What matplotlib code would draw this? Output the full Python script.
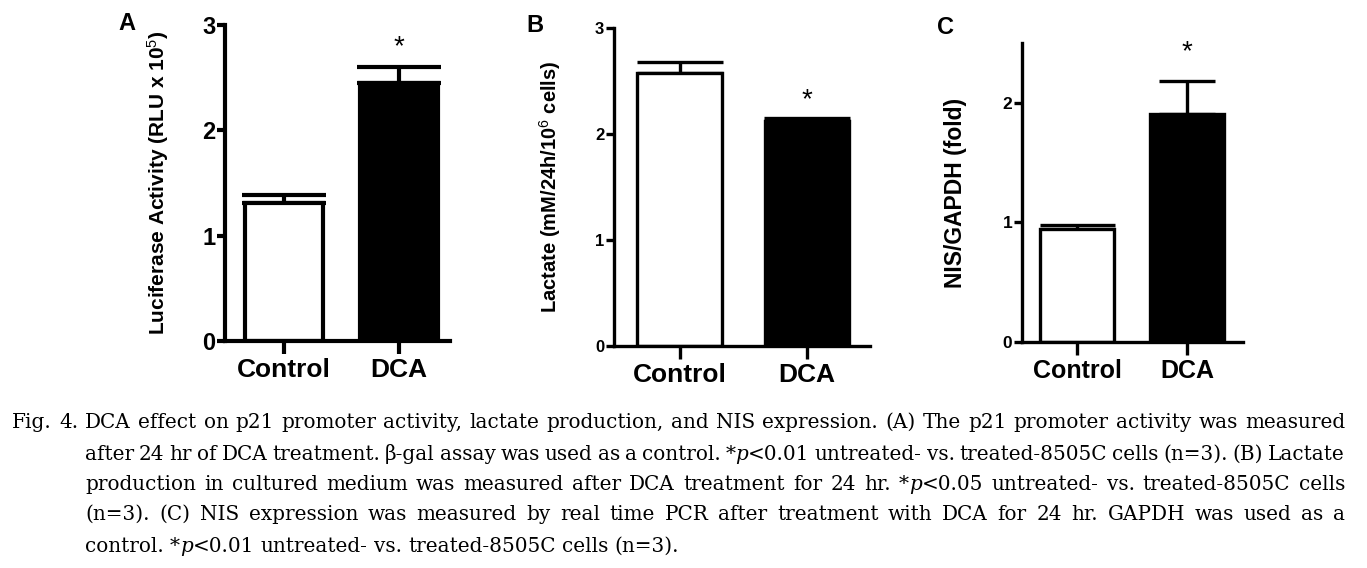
import matplotlib
matplotlib.use("Agg")
import matplotlib.pyplot as plt
from matplotlib import font_manager

# ---------------- data ----------------
categories = ["Control", "DCA"]
a_means = [1.31, 2.45]
a_errs = [0.08, 0.15]
b_means = [2.58, 2.12]
b_errs = [0.10, 0.03]
c_means = [0.945, 1.91]
c_errs = [0.03, 0.27]
a_yticks = [0, 1, 2, 3]
b_yticks = [0, 1, 2, 3]
c_yticks = [0, 1, 2]
a_ylabel = "Luciferase Activity (RLU x 10$^5$)"
b_ylabel = "Lactate (mM/24h/10$^6$ cells)"
c_ylabel = "NIS/GAPDH (fold)"
panel_letters = ["A", "B", "C"]
star = "*"

caption_lines = [
    [["Fig."], ["4."], ["DCA"], ["effect"], ["on"], ["p21"], ["promoter"], ["activity,"], ["lactate"],
     ["production,"], ["and"], ["NIS"], ["expression."], ["(A)"], ["The"], ["p21"], ["promoter"],
     ["activity"], ["was"], ["measured"]],
    [["after"], ["24"], ["hr"], ["of"], ["DCA"], ["treatment."], ["\u03b2-gal"], ["assay"], ["was"], ["used"],
     ["as"], ["a"], ["control."], ["*", ("p",), "<0.01"], ["untreated-"], ["vs."], ["treated-8505C"],
     ["cells"], ["(n=3)."], ["(B)"], ["Lactate"]],
    [["production"], ["in"], ["cultured"], ["medium"], ["was"], ["measured"], ["after"], ["DCA"],
     ["treatment"], ["for"], ["24"], ["hr."], ["*", ("p",), "<0.05"], ["untreated-"], ["vs."],
     ["treated-8505C"], ["cells"]],
    [["(n=3)."], ["(C)"], ["NIS"], ["expression"], ["was"], ["measured"], ["by"], ["real"], ["time"],
     ["PCR"], ["after"], ["treatment"], ["with"], ["DCA"], ["for"], ["24"], ["hr."], ["GAPDH"], ["was"],
     ["used"], ["as"], ["a"]],
    [["control."], ["*", ("p",), "<0.01"], ["untreated-"], ["vs."], ["treated-8505C"], ["cells"], ["(n=3)."]],
]

W, H = 1367, 568
fig = plt.figure(figsize=(W / 100, H / 100), dpi=100)

available = {f.name for f in font_manager.fontManager.ttflist}
narrow = "Liberation Sans Narrow" if "Liberation Sans Narrow" in available else "Liberation Sans"
sans = "Liberation Sans"
plt.rcParams["mathtext.fontset"] = "custom"
plt.rcParams["mathtext.rm"] = narrow
plt.rcParams["mathtext.it"] = narrow


def px_axes(left, right, bottom, top):
    return fig.add_axes([left / W, 1 - bottom / H, (right - left) / W, (bottom - top) / H])


def draw_panel(ax, means, errs, caps, ylim, yticks, xlim, width, ylabel, lw,
               ytick_fs, xtick_fs, ylabel_fs, star_y):
    x = [0, 1]
    colors = ["white", "black"]
    for i in range(2):
        ax.errorbar(x[i], means[i], yerr=[[0], [errs[i]]], fmt="none", ecolor="black",
                    elinewidth=lw, capsize=caps[i], capthick=lw, zorder=1)
    ax.bar(x, means, width=width, color=colors, edgecolor="black", linewidth=lw, zorder=2)
    ax.set_xlim(*xlim)
    ax.set_ylim(*ylim)
    ax.set_yticks(yticks)
    ax.set_yticklabels([str(t) for t in yticks], fontsize=ytick_fs, fontweight="bold", family=sans)
    ax.set_xticks(x)
    ax.set_xticklabels(categories, fontsize=xtick_fs, fontweight="bold", family=narrow)
    for s in ["top", "right"]:
        ax.spines[s].set_visible(False)
    for s in ["left", "bottom"]:
        ax.spines[s].set_linewidth(lw)
    ax.tick_params(axis="y", length=6, width=lw, pad=1)
    ax.tick_params(axis="x", length=9, width=lw, pad=3)
    ax.text(1, star_y, star, ha="center", va="center", fontsize=20, family=sans)
    ax.set_ylabel(ylabel, fontsize=ylabel_fs, family=narrow, fontweight="bold")
    ax.patch.set_alpha(0)


# Panel A
axA = px_axes(225, 450, 341, 25)
draw_panel(axA, a_means, a_errs, [30, 30], (0, 3), a_yticks, (-0.513, 1.443), 0.68,
           a_ylabel, 3.0, 17, 19, 15, 2.79)
# Panel B
axB = px_axes(614, 870, 346, 28)
draw_panel(axB, b_means, b_errs, [31, 31], (0, 3), b_yticks, (-0.514, 1.494), 0.665,
           b_ylabel, 2.4, 12, 19, 14.5, 2.32)
# Panel C
axC = px_axes(1022, 1243, 342, 43)
draw_panel(axC, c_means, c_errs, [27, 20], (0, 2.5), c_yticks, (-0.5, 1.51), 0.673,
           c_ylabel, 2.4, 12.5, 18, 16.5, 2.42)

# y label positions (pixels)
for ax, lx, (bot, top) in [(axA, 171, (341, 25)), (axB, 563, (346, 28)), (axC, 967, (342, 43))]:
    ax.yaxis.set_label_coords(lx / W, 1 - (bot + top) / 2 / H, transform=fig.transFigure)

# panel letters
for letter, (lx, ly) in zip(panel_letters, [(127, 23), (535, 25), (945, 28)]):
    fig.text(lx / W, 1 - ly / H, letter, ha="center", va="center", fontsize=17,
             fontweight="bold", family=sans)

# ---------------- caption (justified) ----------------
renderer = fig.canvas.get_renderer()
cap_family = "DejaVu Serif"
cap_fs = 12.5


def seg_width(txt, style, fs):
    t = fig.text(0, 0, txt, fontsize=fs, family=cap_family, style=style)
    w = t.get_window_extent(renderer).width
    t.remove()
    return w


def word_segments(word):
    segs = []
    for part in word:
        if isinstance(part, tuple):
            segs.append((part[0], "italic"))
        else:
            segs.append((part, "normal"))
    return segs


line_starts = [12, 85, 85, 85, 85]
line_baselines = [428, 460, 490, 520, 552]
right_edge = 1345

# fit the font size so the first line fits with natural spacing
segs0 = [word_segments(w) for w in caption_lines[0]]
nat = sum(seg_width(t, s, cap_fs) for segs in segs0 for t, s in segs)
sp = seg_width("a a", "normal", cap_fs) - seg_width("aa", "normal", cap_fs)
nat += sp * (len(segs0) - 1)
cap_fs = cap_fs * (right_edge - line_starts[0]) / nat * 0.985
space_w = seg_width("a a", "normal", cap_fs) - seg_width("aa", "normal", cap_fs)

for li, words in enumerate(caption_lines):
    x0 = line_starts[li]
    segs_list = [word_segments(w) for w in words]
    widths = [[seg_width(t, s, cap_fs) for t, s in segs] for segs in segs_list]
    totals = [sum(w) for w in widths]
    justify = li < len(caption_lines) - 1
    if justify and len(words) > 1:
        gap = (right_edge - x0 - sum(totals)) / (len(words) - 1)
    else:
        gap = space_w
    x = x0
    y = 1 - line_baselines[li] / H
    for segs, ws in zip(segs_list, widths):
        for (t, s), w in zip(segs, ws):
            fig.text(x / W, y, t, fontsize=cap_fs, family=cap_family, style=s,
                     ha="left", va="baseline")
            x += w
        x += gap

fig.savefig("out.png", dpi=100)
